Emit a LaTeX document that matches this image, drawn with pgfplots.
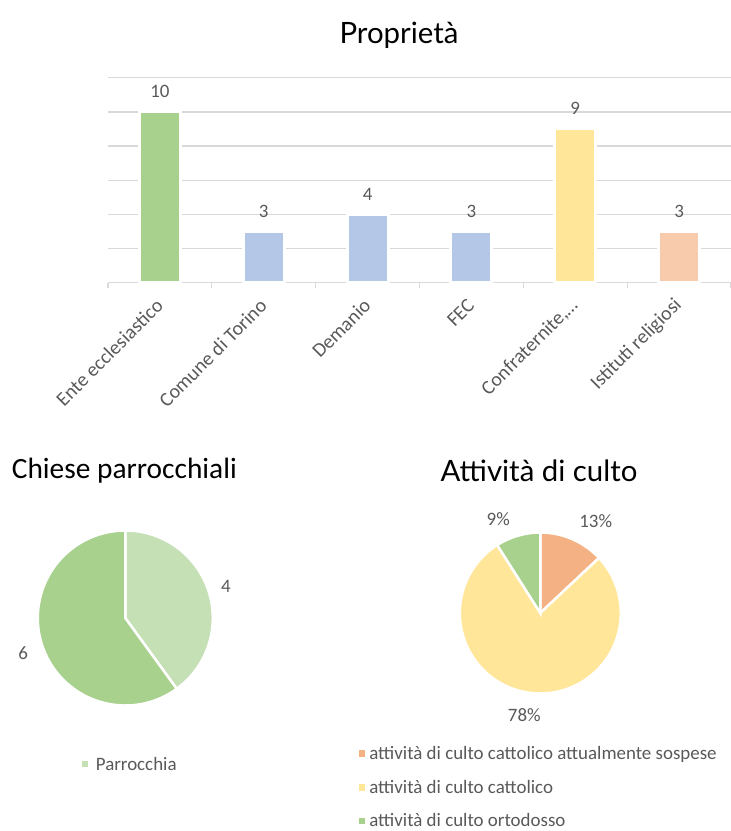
\documentclass[border=0pt]{standalone}
\usepackage{pgfplots}
\pgfplotsset{compat=1.18}
\usepackage{fontspec}
\setmainfont{Carlito}
\newfontfamily\titlefont{Lato}

\definecolor{barG}{HTML}{A9D18E}
\definecolor{barB}{HTML}{B4C7E7}
\definecolor{barY}{HTML}{FFE699}
\definecolor{barP}{HTML}{F8CBAD}
\definecolor{pieLG}{HTML}{C5E0B4}
\definecolor{pieO}{HTML}{F4B183}
\definecolor{gridc}{HTML}{D9D9D9}
\definecolor{labc}{HTML}{595959}

\newcommand\txt{\fontsize{19}{23}\selectfont}
\newcommand\ttl{\titlefont\fontsize{29.5}{35}\selectfont}

\begin{document}
\begin{tikzpicture}
\useasboundingbox (0,0) rectangle (731bp,-831bp);

% values of the two pies
\def\chA{4}\def\chB{6}
\pgfmathsetmacro\chAng{90-360/(\chA+\chB)*\chA}
\def\cuA{13}\def\cuB{78}\def\cuC{9}
\pgfmathsetmacro\cuAngA{90-360/(\cuA+\cuB+\cuC)*\cuA}
\pgfmathsetmacro\cuAngB{\cuAngA-360/(\cuA+\cuB+\cuC)*\cuB}

% ---- Proprieta
\node[anchor=base, font=\ttl] at (399bp,-43bp) {Proprietà};

\begin{axis}[
  at={(108bp,-282.7bp)}, anchor=south west,
  scale only axis, width=623bp, height=205bp,
  xmin=-0.5, xmax=5.5, ymin=0, ymax=12,
  /pgf/number format/assume math mode=true,
  axis x line*=bottom, axis y line*=left,
  x axis line style={draw=gridc, line width=1.3bp, -},
  y axis line style={draw=none},
  ytick={0,2,...,12}, yticklabels={}, ytick style={draw=none},
  ymajorgrids, y grid style={draw=gridc, line width=1.3bp},
  xtick={0,...,5}, xtick style={draw=none},
  xticklabels={Ente ecclesiastico, Comune di Torino, Demanio, FEC, {Confraternite,…}, Istituti religiosi},
  xticklabel style={font=\fontsize{20}{24}\selectfont, text=labc, xshift=2bp, yshift=-13bp, rotate=45, anchor=east},
  minor xtick={-0.5,0.5,...,5.5}, minor tick length=5bp, tick align=outside,
  minor x tick style={draw=gridc, line width=1.3bp},
  every node near coord/.append style={font=\txt, text=labc, anchor=base, yshift=14bp},
  clip=false,
]
\addplot[ybar, bar width=41bp, bar shift=0pt, fill=barG, draw=white, line width=3bp, nodes near coords] coordinates {(0,10)};
\addplot[ybar, bar width=41bp, bar shift=0pt, fill=barB, draw=white, line width=3bp, nodes near coords] coordinates {(1,3) (2,4) (3,3)};
\addplot[ybar, bar width=41bp, bar shift=0pt, fill=barY, draw=white, line width=3bp, nodes near coords] coordinates {(4,9)};
\addplot[ybar, bar width=41bp, bar shift=0pt, fill=barP, draw=white, line width=3bp, nodes near coords] coordinates {(5,3)};
\end{axis}

% ---- Chiese parrocchiali
\node[anchor=base west, inner sep=0pt, font=\fontsize{29.5}{35}\selectfont] at (11.7bp,-478bp) {Chiese parrocchiali};

\begin{axis}[
  at={(125.3bp,-618bp)}, anchor=center,
  scale only axis, width=175bp, height=175bp,
  xmin=-1, xmax=1, ymin=-1, ymax=1, hide axis, clip=false,
]
\fill[pieLG, draw=white, line width=2.5bp] (axis cs:0,0) -- ++(90:87.5bp) arc[start angle=90, end angle=\chAng, radius=87.5bp] -- cycle;
\fill[barG, draw=white, line width=2.5bp] (axis cs:0,0) -- ++(\chAng:87.5bp) arc[start angle=\chAng, end angle=-270, radius=87.5bp] -- cycle;
\node[font=\txt, text=labc] at (axis cs:1.151,0.358) {\chA};
\node[font=\txt, text=labc] at (axis cs:-1.166,-0.403) {\chB};
\end{axis}

\node[anchor=base west, inner sep=0pt, font=\txt, text=labc] at (82bp,-770bp)
  {\textcolor{pieLG}{\rule[2.7bp]{6.3bp}{6.3bp}}\hspace{7.4bp}Parrocchia};

% ---- Attivita di culto
\node[anchor=base, font=\ttl] at (539bp,-481bp) {Attività di culto};

\begin{axis}[
  at={(540.3bp,-613bp)}, anchor=center,
  scale only axis, width=161bp, height=161bp,
  xmin=-1, xmax=1, ymin=-1, ymax=1, hide axis, clip=false,
]
\fill[pieO, draw=white, line width=2.5bp] (axis cs:0,0) -- ++(90:80.5bp) arc[start angle=90, end angle=\cuAngA, radius=80.5bp] -- cycle;
\fill[barY, draw=white, line width=2.5bp] (axis cs:0,0) -- ++(\cuAngA:80.5bp) arc[start angle=\cuAngA, end angle=\cuAngB, radius=80.5bp] -- cycle;
\fill[barG, draw=white, line width=2.5bp] (axis cs:0,0) -- ++(\cuAngB:80.5bp) arc[start angle=\cuAngB, end angle=-270, radius=80.5bp] -- cycle;
\node[font=\txt, text=labc] at (axis cs:0.688,1.143) {\cuA\%};
\node[font=\txt, text=labc] at (axis cs:-0.199,-1.267) {\cuB\%};
\node[font=\txt, text=labc] at (axis cs:-0.522,1.168) {\cuC\%};
\end{axis}

\node[anchor=base west, inner sep=0pt, font=\txt, text=labc] at (358.3bp,-759bp)
  {\textcolor{pieO}{\rule[2.5bp]{6.5bp}{6.5bp}}\hspace{4.3bp}attività di culto cattolico attualmente sospese};
\node[anchor=base west, inner sep=0pt, font=\txt, text=labc] at (358.3bp,-793bp)
  {\textcolor{barY}{\rule[2.5bp]{6.5bp}{6.5bp}}\hspace{4.3bp}attività di culto cattolico};
\node[anchor=base west, inner sep=0pt, font=\txt, text=labc] at (358.3bp,-826.5bp)
  {\textcolor{barG}{\rule[2.5bp]{6.5bp}{6.5bp}}\hspace{4.3bp}attività di culto ortodosso};
\end{tikzpicture}
\end{document}
